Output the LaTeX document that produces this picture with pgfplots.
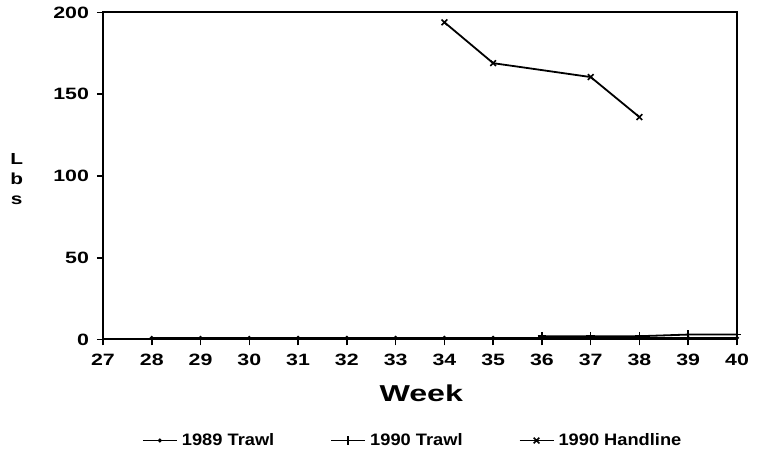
\documentclass[border=0pt]{standalone}
\usepackage{fontspec}
\setmainfont{Liberation Sans}
\newfontfamily\tickfont{Liberation Sans Bold}[FakeStretch=1.3]
\newfontfamily\weekfont{Liberation Sans Bold}[FakeStretch=1.4]
\newfontfamily\legfont{Liberation Sans Bold}[FakeStretch=1.1]
\usepackage{pgfplots}
\pgfplotsset{compat=1.18}
\begin{document}
\begin{tikzpicture}
\path (-51.5pt,-61.5pt) rectangle (328.5pt,169.5pt);
\begin{axis}[
  at={(0pt,0pt)}, anchor=origin,
  scale only axis, width=317pt, height=163.5pt,
  xmin=27, xmax=40, ymin=0, ymax=200,
  xtick={27,28,...,40}, ytick={0,50,100,150,200},
  xtick pos=bottom, ytick pos=left,
  tick align=outside, major tick length=3pt,
  axis line style={line width=1pt},
  every tick/.style={black, line width=0.8pt},
  /pgf/number format/assume math mode=true,
  tick label style={font=\tickfont\fontsize{8.2}{9}\selectfont},
  xticklabel style={yshift=-1pt},
  yticklabel style={xshift=-0.5pt},
  xlabel={Week},
  xlabel style={font=\weekfont\fontsize{11.5}{12}\selectfont, at={(axis description cs:0.502,-0.165)}, anchor=center},
  ylabel={L\\b\\s},
  ylabel style={rotate=-90, align=center, font=\tickfont\fontsize{8}{10}\selectfont, at={(axis description cs:-0.136,0.49)}, anchor=center},
  legend columns=3,
  legend style={draw=none, at={(axis description cs:0.49,-0.309)}, anchor=center,
    font=\legfont\fontsize{8.3}{9}\selectfont,
    /tikz/every even column/.append style={column sep=26pt}},
  legend cell align=left,
]
\addplot[black, line width=0.9pt, mark=*, mark size=0.5pt] coordinates {
(28,1) (29,1) (30,1) (31,1) (32,1) (33,1) (34,1) (35,1) (36,1) (37,1) (38,1) (39,1) (40,1)};
\addlegendentry{1989 Trawl}
\addplot[black, line width=0.9pt, mark=+, mark size=2.2pt, mark options={line width=0.8pt}] coordinates {
(36,2) (37,2) (38,2) (39,3) (40,3)};
\addlegendentry{1990 Trawl}
\addplot[black, line width=0.9pt, mark=x, mark size=2pt, mark options={line width=0.8pt}] coordinates {
(34,194) (35,169) (37,160.5) (38,136)};
\addlegendentry{1990 Handline}
\end{axis}
\end{tikzpicture}
\end{document}
